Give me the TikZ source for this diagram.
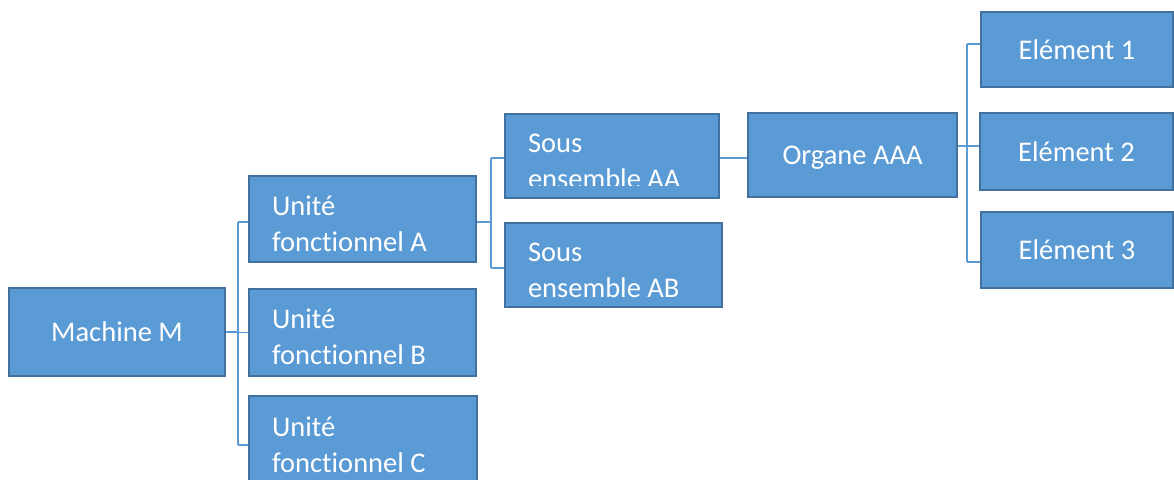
\documentclass[tikz,border=0pt]{standalone}
\usepackage{fontspec}
\setmainfont{Carlito}[Ligatures=NoCommon]
\definecolor{boxfill}{HTML}{5B9BD5}
\definecolor{boxline}{HTML}{41719C}
\definecolor{wire}{HTML}{5B9BD5}
\tikzset{
  box/.style={draw=boxline, fill=boxfill, line width=2pt, text=white,
    inner sep=0pt, font=\fontsize{28.5}{36}\selectfont},
  oneline/.style={box, text depth=0pt},
  twoline/.style={box, align=flush left, inner xsep=23pt, text height=29pt},
  conn/.style={draw=wire, line width=1.5pt},
}
\begin{document}
\begin{tikzpicture}[x=1pt,y=1pt]
\clip (0,0) rectangle (1174,479);
\fill[white] (0,0) rectangle (1174,479);

% level 1
\node[oneline, minimum width=216pt, minimum height=88pt] (M) at (117,147) {Machine M};

% level 2: functional units
\node[twoline, text width=181pt, minimum width=227pt, minimum height=86pt] (UA) at (362.5,260) {Unité\\fonctionnel A};
\node[twoline, text width=181pt, minimum width=227pt, minimum height=87pt] (UB) at (362.5,146.5) {Unité\\fonctionnel B};
\node[twoline, text width=182pt, minimum width=228pt, minimum height=88pt] (UC) at (363,39) {Unité\\fonctionnel C};

% level 3: sub-assemblies
\node[box, minimum width=214pt, minimum height=84pt] (SAA) at (612,323) {};
\begin{scope}
  \clip ([yshift=13.5pt]SAA.south west) rectangle (SAA.north east);
  \node[twoline, draw=none, fill=none, text width=168pt, minimum width=214pt, minimum height=84pt] (SAAtext) at (SAA.center) {Sous\\ensemble AA};
\end{scope}
\node[twoline, text width=171pt, minimum width=217pt, minimum height=84pt] (SAB) at (613.5,214) {Sous\\ensemble AB};

% level 4: organ
\node[oneline, minimum width=209pt, minimum height=84pt] (O) at (852.5,324) {Organe AAA};

% level 5: elements
\node[oneline, minimum width=192pt, minimum height=75pt] (E1) at (1077,429.5) {Elément 1};
\node[oneline, minimum width=193pt, minimum height=77pt] (E2) at (1076.5,327.5) {Elément 2};
\node[oneline, minimum width=192pt, minimum height=76pt] (E3) at (1077,229) {Elément 3};

% bus junctions
\coordinate (jUA) at (238,257);
\coordinate (jUC) at (238,34);
\coordinate (jSA) at (491,321);
\coordinate (jSB) at (491,211);
\coordinate (jE1) at (967,435);
\coordinate (jE2) at (967,333);
\coordinate (jE3) at (967,217);

% Machine -> units
\draw[conn] (M.east) -- (M.east -| jUA);
\draw[conn] (jUA) -- (jUC);
\draw[conn] (jUA) -- (jUA -| UA.west);
\draw[conn] (UB.west) -- (UB.west -| jUA);
\draw[conn] (jUC) -- (jUC -| UC.west);

% unit A -> sub-assemblies
\draw[conn] (jUA -| UA.east) -- (jUA -| jSA);
\draw[conn] (jSA) -- (jSB);
\draw[conn] (jSA) -- (jSA -| SAA.west);
\draw[conn] (jSB) -- (jSB -| SAB.west);

% sub-assembly AA -> organ
\draw[conn] (jSA -| SAA.east) -- (jSA -| O.west);

% organ -> elements
\draw[conn] (jE2 -| O.east) -- (jE2);
\draw[conn] (jE1) -- (jE3);
\draw[conn] (jE1) -- (jE1 -| E1.west);
\draw[conn] (jE2) -- (jE2 -| E2.west);
\draw[conn] (jE3) -- (jE3 -| E3.west);
\end{tikzpicture}
\end{document}
